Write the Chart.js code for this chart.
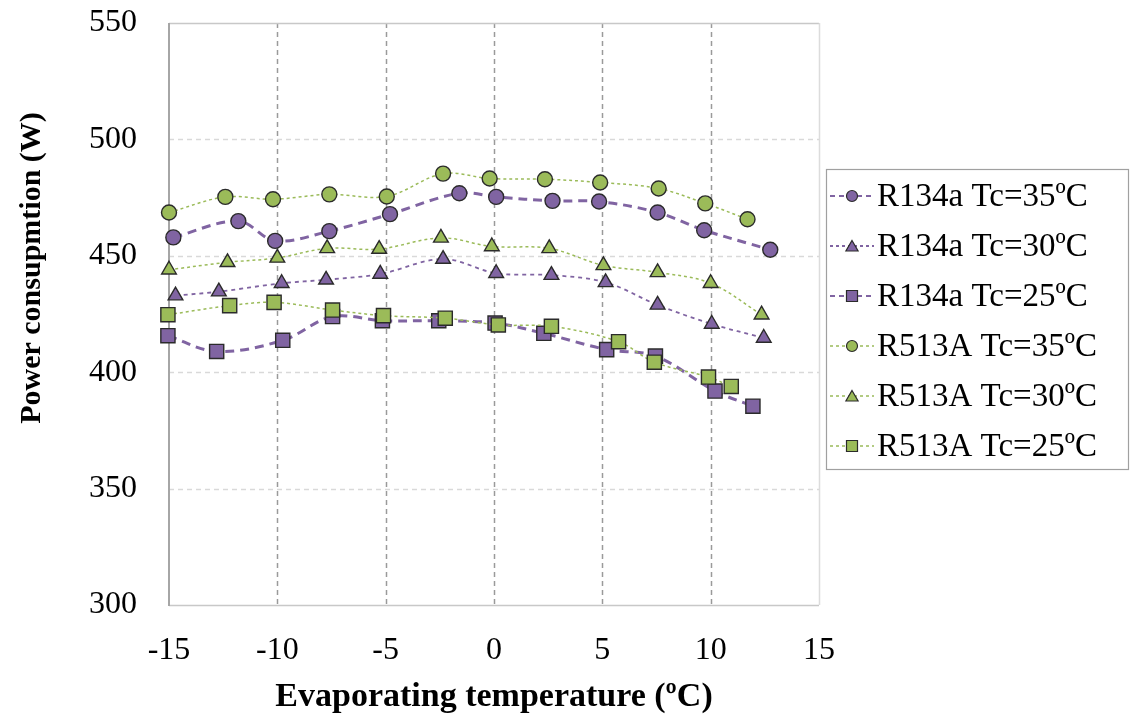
<!DOCTYPE html>
<html>
<head>
<meta charset="utf-8">
<script src="https://cdn.jsdelivr.net/npm/chart.js@4/dist/chart.umd.min.js"></script>
<style>
html,body{margin:0;padding:0;background:#fff;}
#wrap{width:1136px;height:722px;position:relative;}
</style>
</head>
<body>
<div id="wrap"><canvas id="c" width="1136" height="722"></canvas></div>
<script>
// ---- data ----
const seriesNames = ["R134a Tc=35ºC","R134a Tc=30ºC","R134a Tc=25ºC","R513A Tc=35ºC","R513A Tc=30ºC","R513A Tc=25ºC"];
const xTicks = [-15,-10,-5,0,5,10,15];
const yTicks = [300,350,400,450,500,550];

const r134a35X = [-14.8,-11.8,-10.1,-7.6,-4.8,-1.6,0.1,2.7,4.85,7.55,9.7,12.75];
const r134a35Y = [457.9,464.9,456.4,460.6,467.9,476.9,475.3,473.6,473.3,468.6,461.0,452.6];
const r134a30X = [-14.7,-12.7,-9.8,-7.75,-5.25,-2.35,0.1,2.65,5.15,7.55,10.05,12.45];
const r134a30Y = [432.9,434.6,438.2,439.7,442.2,448.6,442.5,441.7,438.6,428.9,420.7,414.7];
const r134a25X = [-15.05,-12.8,-9.75,-7.45,-5.15,-2.55,0.05,2.3,5.2,7.45,10.2,11.95];
const r134a25Y = [415.7,408.9,413.7,423.9,422.1,422.1,421.1,416.7,409.7,406.9,391.9,385.4];
const r513a35X = [-15.0,-12.4,-10.2,-7.6,-4.95,-2.35,-0.2,2.35,4.9,7.6,9.75,11.7];
const r513a35Y = [468.6,475.3,474.3,476.4,475.5,485.3,483.2,482.9,481.5,478.9,472.5,465.7];
const r513a30X = [-15.0,-12.3,-10.0,-7.7,-5.3,-2.45,-0.1,2.55,5.05,7.55,10.0,12.35];
const r513a30Y = [444.0,447.2,449.1,453.2,452.9,457.7,454.0,453.2,445.9,442.9,438.2,424.7];
const r513a25X = [-15.05,-12.2,-10.15,-7.45,-5.1,-2.25,0.2,2.65,5.75,7.4,9.9,10.95];
const r513a25Y = [424.7,428.6,430.0,426.7,424.3,423.2,420.3,419.7,413.1,404.3,397.9,393.9];

// ---- styling ----
const PURPLE = '#8064a2', GREEN = '#9bbb59', EDGE = '#2b2b2b';
const toPts = (xs, ys) => xs.map((x, i) => ({x: x, y: ys[i]}));

const styles = [
  {color: PURPLE, dash: [9,6], width: 3, shape: 'circle', r: 7.5, order: 2},
  {color: PURPLE, dash: [4,4], width: 1.8, shape: 'triangle', r: 8.5, order: 2},
  {color: PURPLE, dash: [9,6], width: 3, shape: 'rect', r: 10, order: 2},
  {color: GREEN, dash: [3,3], width: 1.5, shape: 'circle', r: 7.5, order: 1},
  {color: GREEN, dash: [3,3], width: 1.5, shape: 'triangle', r: 8.5, order: 1},
  {color: GREEN, dash: [3,3], width: 1.5, shape: 'rect', r: 10, order: 1}
];
const seriesData = [
  toPts(r134a35X, r134a35Y), toPts(r134a30X, r134a30Y), toPts(r134a25X, r134a25Y),
  toPts(r513a35X, r513a35Y), toPts(r513a30X, r513a30Y), toPts(r513a25X, r513a25Y)
];

const datasets = seriesNames.map((name, i) => {
  const s = styles[i];
  return {
    label: name,
    data: seriesData[i],
    borderColor: s.color,
    borderWidth: s.width,
    borderDash: s.dash,
    backgroundColor: s.color,
    pointStyle: s.shape,
    pointRadius: s.r,
    pointHoverRadius: s.r,
    pointBackgroundColor: s.color,
    pointBorderColor: EDGE,
    pointBorderWidth: 1.4,
    tension: 0.35,
    fill: false,
    clip: false,
    order: s.order
  };
});

const SERIF = '"Liberation Serif", "Times New Roman", serif';

// gridlines + frame drawn through the library's scales
const gridPlugin = {
  id: 'gridFrame',
  beforeDatasetsDraw(chart) {
    const {ctx, chartArea: a, scales: {x, y}} = chart;
    ctx.save();
    ctx.lineWidth = 1.3;
    ctx.setLineDash([5,4]);
    ctx.strokeStyle = '#d9d9d9';
    yTicks.forEach(v => {
      if (v === 300 || v === 550) return;
      const py = Math.round(y.getPixelForValue(v)) + 0.5;
      ctx.beginPath(); ctx.moveTo(a.left, py); ctx.lineTo(a.right, py); ctx.stroke();
    });
    ctx.strokeStyle = '#9a9a9a';
    ctx.lineWidth = 1.5;
    xTicks.forEach(v => {
      if (v === -15 || v === 15) return;
      const px = Math.round(x.getPixelForValue(v)) + 0.5;
      ctx.beginPath(); ctx.moveTo(px, a.top); ctx.lineTo(px, a.bottom); ctx.stroke();
    });
    ctx.setLineDash([]);
    ctx.lineWidth = 1.5;
    ctx.strokeStyle = '#c8c8c8';
    ctx.beginPath(); ctx.moveTo(a.left, a.top + 0.5); ctx.lineTo(a.right, a.top + 0.5); ctx.stroke();
    ctx.beginPath(); ctx.moveTo(a.left, a.bottom + 0.5); ctx.lineTo(a.right, a.bottom + 0.5); ctx.stroke();
    ctx.strokeStyle = '#dcdcdc';
    ctx.beginPath(); ctx.moveTo(a.right + 0.5, a.top); ctx.lineTo(a.right + 0.5, a.bottom); ctx.stroke();
    ctx.strokeStyle = '#a6a6a6';
    ctx.lineWidth = 2;
    ctx.beginPath(); ctx.moveTo(a.left, a.top); ctx.lineTo(a.left, a.bottom + 1); ctx.stroke();
    ctx.restore();
  }
};

function drawShape(ctx, shape, cx, cy, size) {
  ctx.beginPath();
  if (shape === 'circle') {
    ctx.arc(cx, cy, size, 0, Math.PI * 2);
  } else if (shape === 'triangle') {
    ctx.moveTo(cx, cy - size);
    ctx.lineTo(cx + size * 0.87, cy + size * 0.5);
    ctx.lineTo(cx - size * 0.87, cy + size * 0.5);
    ctx.closePath();
  } else {
    ctx.rect(cx - size, cy - size, size * 2, size * 2);
  }
  ctx.fill();
  ctx.stroke();
}

// legend box + y-axis title
const legendPlugin = {
  id: 'boxLegend',
  afterDraw(chart) {
    const ctx = chart.ctx;
    ctx.save();
    // y-axis title
    ctx.translate(32, 268);
    ctx.rotate(-Math.PI / 2);
    ctx.font = 'bold 30px ' + SERIF;
    ctx.fillStyle = '#000';
    ctx.textAlign = 'center';
    ctx.textBaseline = 'middle';
    ctx.fillText('Power consupmtion (W)', 0, 0);
    ctx.restore();

    ctx.save();
    ctx.strokeStyle = '#a0a0a0';
    ctx.lineWidth = 1.2;
    ctx.strokeRect(826.5, 169.5, 302, 300);
    ctx.font = '33px ' + SERIF;
    ctx.textBaseline = 'middle';
    ctx.textAlign = 'left';
    chart.data.datasets.forEach((ds, i) => {
      const s = styles[i];
      const cy = 196 + i * 50;
      ctx.strokeStyle = s.color;
      ctx.lineWidth = Math.min(s.width, 2);
      ctx.setLineDash(s.width > 2 ? [5,4] : [3,3]);
      ctx.beginPath(); ctx.moveTo(830, cy); ctx.lineTo(874, cy); ctx.stroke();
      ctx.setLineDash([]);
      ctx.fillStyle = s.color;
      ctx.strokeStyle = EDGE;
      ctx.lineWidth = 1.2;
      const sz = s.shape === 'circle' ? 5.5 : (s.shape === 'triangle' ? 7 : 5.5);
      drawShape(ctx, s.shape, 852, s.shape === 'triangle' ? cy + 1.5 : cy, sz);
      ctx.fillStyle = '#000';
      ctx.fillText(ds.label, 877, cy + 1);
    });
    ctx.restore();
  }
};

new Chart(document.getElementById('c'), {
  type: 'line',
  data: {datasets: datasets},
  plugins: [gridPlugin, legendPlugin],
  options: {
    responsive: false,
    animation: false,
    events: [],
    layout: {padding: {left: 0, right: 317, top: 23, bottom: 0}},
    plugins: {legend: {display: false}, tooltip: {enabled: false}},
    scales: {
      x: {
        type: 'linear',
        min: -15, max: 15,
        afterBuildTicks: s => { s.ticks = xTicks.map(v => ({value: v})); },
        afterFit: s => { s.height = 117; s.paddingLeft = 0; s.paddingRight = 0; },
        grid: {display: false, drawTicks: false},
        border: {display: false},
        ticks: {
          padding: 26,
          color: '#000',
          font: {family: SERIF, size: 32},
          callback: v => String(v),
          maxRotation: 0
        },
        title: {
          display: true,
          text: 'Evaporating temperature (ºC)',
          color: '#000',
          font: {family: SERIF, size: 34, weight: 'bold'},
          padding: {top: 0, bottom: 4}
        }
      },
      y: {
        min: 300, max: 550,
        afterBuildTicks: s => { s.ticks = yTicks.map(v => ({value: v})); },
        afterFit: s => { s.width = 169; s.paddingTop = 0; s.paddingBottom = 0; },
        grid: {display: false, drawTicks: false},
        border: {display: false},
        ticks: {
          padding: 32,
          color: '#000',
          font: {family: SERIF, size: 32},
          callback: v => String(v)
        }
      }
    }
  }
});
</script>
</body>
</html>
